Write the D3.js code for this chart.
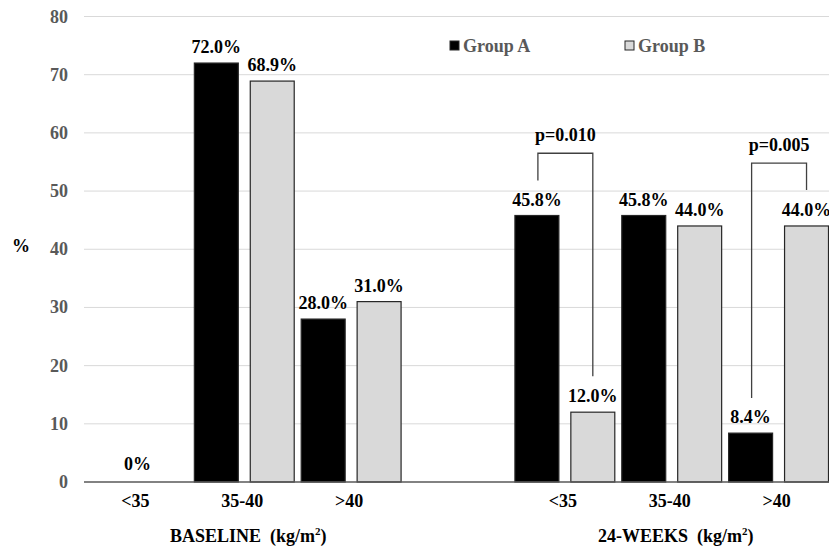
<!DOCTYPE html>
<html><head><meta charset="utf-8">
<script src="https://cdn.jsdelivr.net/npm/d3@7"></script>
<style>body{margin:0;background:#fff}svg{display:block}text{font-family:"Liberation Serif","Times New Roman",serif;font-weight:bold}</style>
</head><body><svg id="c" width="829" height="550"></svg>
<script>
const categories = ["b<35","b35-40","b>40","gap","w<35","w35-40","w>40"];
const catLabels = ["<35","35-40",">40","","<35","35-40",">40"];
const groupA = [0, 72.0, 28.0, null, 45.8, 45.8, 8.4];
const groupB = [null, 68.9, 31.0, null, 12.0, 44.0, 44.0];
const labelsA = ["0%","72.0%","28.0%","","45.8%","45.8%","8.4%"];
const labelsB = ["","68.9%","31.0%","","12.0%","44.0%","44.0%"];
const yTicks = [0,10,20,30,40,50,60,70,80];
const seriesNames = ["Group A","Group B"];
const periodLabels = ["BASELINE\u00a0\u00a0(kg/m", "24-WEEKS\u00a0\u00a0(kg/m"];
const brackets = [
  {from:["w<35","A"], to:["w<35","B"], top:56.5, text:"p=0.010"},
  {from:["w>40","A"], to:["w>40","B"], top:54.8, text:"p=0.005"}
];

const svg = d3.select("#c");
const y = d3.scaleLinear().domain([0,80]).range([482,16.5]);
const x = d3.scaleBand().domain(categories).range([84,832]);
const xs = d3.scaleBand().domain(["A","B"]).range([0,x.bandwidth()]).paddingInner(0.214).paddingOuter(0.0625);
const FS = 18;

// gridlines
svg.append("g").selectAll("line").data(yTicks.filter(d=>d>0)).join("line")
  .attr("x1",84).attr("x2",829).attr("y1",d=>y(d)).attr("y2",d=>y(d))
  .attr("stroke","#d9d9d9").attr("stroke-width",1);

// y tick labels
svg.append("g").selectAll("text").data(yTicks).join("text")
  .attr("x",68).attr("y",d=>y(d)+6).attr("text-anchor","end")
  .attr("font-size",FS).attr("fill","#595959").text(d=>d);

svg.append("text").attr("x",21).attr("y",252).attr("text-anchor","middle")
  .attr("font-size",FS).attr("fill","#000").text("%");

const vals = [];
categories.forEach((c,i)=>{
  if(groupA[i]!==null) vals.push({c, s:"A", v:groupA[i], lab:labelsA[i]});
  if(groupB[i]!==null) vals.push({c, s:"B", v:groupB[i], lab:labelsB[i]});
});
const bx = d=> x(d.c)+xs(d.s);

svg.append("g").selectAll("rect").data(vals.filter(d=>d.v>0)).join("rect")
  .attr("x",bx).attr("width",xs.bandwidth())
  .attr("y",d=>y(d.v)).attr("height",d=>y(0)-y(d.v))
  .attr("fill",d=>d.s==="A"?"#000":"#d9d9d9")
  .attr("stroke","#262626").attr("stroke-width",1.2);

// baseline axis
svg.append("line").attr("x1",84).attr("x2",829).attr("y1",y(0)).attr("y2",y(0))
  .attr("stroke","#595959").attr("stroke-width",1.5);

// value labels
svg.append("g").selectAll("text").data(vals.filter(d=>d.lab)).join("text")
  .attr("x",d=>d.v===0 ? x(d.c)+x.bandwidth()/2 : bx(d)+xs.bandwidth()/2)
  .attr("y",d=>y(d.v)-(d.v===0?12:10)).attr("text-anchor","middle")
  .attr("font-size",FS).attr("fill","#000").text(d=>d.lab);

// category labels
svg.append("g").selectAll("text").data(categories.map((c,i)=>({c,l:catLabels[i]})).filter(d=>d.l)).join("text")
  .attr("x",d=>x(d.c)+x.bandwidth()/2 - 2).attr("y",507).attr("text-anchor","middle")
  .attr("font-size",FS).attr("fill","#000").text(d=>d.l);

// period labels
const periodCenters = [ (x("b<35")+x("b>40")+x.bandwidth())/2, (x("w<35")+x("w>40")+x.bandwidth())/2 ];
periodLabels.forEach((p,i)=>{
  const t = svg.append("text").attr("x",periodCenters[i]+4).attr("y",542).attr("text-anchor","middle")
    .attr("font-size",FS).attr("fill","#000");
  t.append("tspan").text(p);
  t.append("tspan").attr("dy",-7).attr("font-size",11).text("2");
  t.append("tspan").attr("dy",7).text(")");
});

// brackets
const valOf = (c,s)=> (s==="A"?groupA:groupB)[categories.indexOf(c)];
brackets.forEach(b=>{
  const x1 = x(b.from[0])+xs(b.from[1])+xs.bandwidth()/2+1;
  const x2 = x(b.to[0])+xs(b.to[1])+xs.bandwidth()/2;
  const y1 = y(valOf(b.from[0],b.from[1]))-35;
  const y2 = y(valOf(b.to[0],b.to[1]))-36;
  const yt = y(b.top);
  svg.append("path").attr("d",`M${x1},${y1}V${yt}H${x2}V${y2}`)
    .attr("fill","none").attr("stroke","#404040").attr("stroke-width",1.3);
  svg.append("text").attr("x",(x1+x2)/2).attr("y",yt-12).attr("text-anchor","middle")
    .attr("font-size",FS).attr("fill","#000").text(b.text);
});

// legend
const legX = [450, 625];
seriesNames.forEach((n,i)=>{
  svg.append("rect").attr("x",legX[i]).attr("y",41).attr("width",9).attr("height",9)
    .attr("fill",i===0?"#000":"#d9d9d9").attr("stroke","#262626").attr("stroke-width",1);
  svg.append("text").attr("x",legX[i]+13).attr("y",52).attr("font-size",FS)
    .attr("fill","#595959").text(n);
});
</script></body></html>
